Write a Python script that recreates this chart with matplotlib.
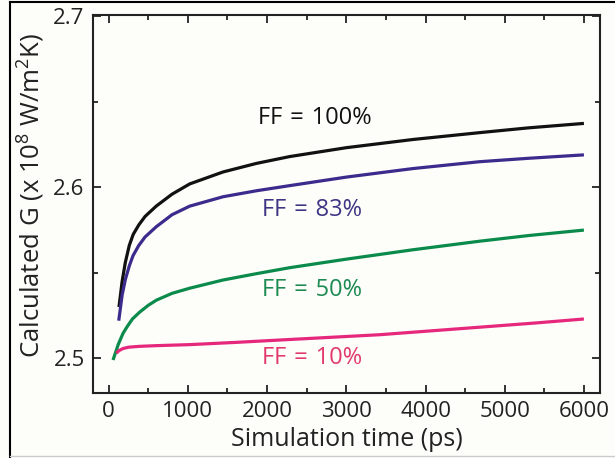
import numpy as np
import matplotlib
matplotlib.use("Agg")
import matplotlib.pyplot as plt
from matplotlib.ticker import MultipleLocator
from matplotlib.lines import Line2D

plt.rcParams['font.family'] = ['Open Sans', 'DejaVu Sans']
plt.rcParams['mathtext.fontset'] = 'custom'
plt.rcParams['mathtext.rm'] = 'Open Sans'
plt.rcParams['mathtext.it'] = 'Open Sans'

# values (time in ps, G in 1e8 W/m2K)
t_100 = [130, 170, 210, 260, 310, 380, 460, 600, 800, 1023, 1444, 1865, 2285, 3000, 3843, 4684, 5300, 6000]
G_100 = [2.530, 2.545, 2.556, 2.566, 2.5725, 2.578, 2.583, 2.589, 2.596, 2.602, 2.609, 2.614, 2.618, 2.6232, 2.628, 2.632, 2.6348, 2.6374]

t_83 = [127, 170, 210, 260, 307, 380, 460, 602, 800, 1023, 1444, 1865, 2285, 3001, 3843, 4684, 5300, 6000]
G_83 = [2.522, 2.537, 2.546, 2.554, 2.560, 2.566, 2.571, 2.577, 2.584, 2.589, 2.5945, 2.598, 2.601, 2.606, 2.611, 2.615, 2.617, 2.619]

t_50 = [55, 120, 181, 240, 300, 391, 500, 602, 800, 1023, 1444, 1865, 2285, 3001, 3843, 4684, 5300, 6000]
G_50 = [2.499, 2.508, 2.5146, 2.519, 2.523, 2.527, 2.531, 2.534, 2.538, 2.541, 2.5458, 2.5495, 2.553, 2.558, 2.5635, 2.5685, 2.5718, 2.575]

t_10 = [97, 130, 180, 250, 391, 600, 1023, 1600, 2285, 3422, 4684, 5400, 6000]
G_10 = [2.503, 2.5045, 2.5057, 2.5065, 2.507, 2.5074, 2.508, 2.5093, 2.511, 2.5138, 2.5182, 2.5207, 2.523]

# label text, left edge t and centre G
labels = ['FF\u2004=\u2004100%', 'FF\u2004=\u200483%', 'FF\u2004=\u200450%', 'FF\u2004=\u200410%']
label_t = [1885, 1936, 1936, 1936]
label_G = [2.6405, 2.5867, 2.5400, 2.5000]

line_colors = ['#111111', '#3c2a8c', '#0b8b4b', '#e6287c']
text_colors = ['#111111', '#3e3585', '#1d8a52', '#e23a6c']

fig = plt.figure(figsize=(6.15, 4.58), dpi=100, facecolor='#fdfdf9')
ax = fig.add_axes([0.1512, 0.1419, 0.8244, 0.8253])
ax.set_facecolor('#fdfdf9')

for t, G, c in zip([t_100, t_83, t_50, t_10], [G_100, G_83, G_50, G_10], line_colors):
    ax.plot(t, G, color=c, lw=2.3, solid_capstyle='butt')
for lab, lt, lg, tc in zip(labels, label_t, label_G, text_colors):
    ax.text(lt, lg, lab, color=tc, fontsize=17, ha='left', va='center')

ax.set_xlim(-198, 6203)
ax.set_ylim(2.4797, 2.7008)
ax.xaxis.set_major_locator(MultipleLocator(1000))
ax.xaxis.set_minor_locator(MultipleLocator(500))
ax.yaxis.set_major_locator(MultipleLocator(0.1))
ax.yaxis.set_minor_locator(MultipleLocator(0.05))
ax.tick_params(which='both', direction='in', top=True, right=True, width=1.3,
               labelsize=16, colors='#222222')
ax.tick_params(which='major', length=6, pad=6)
ax.tick_params(which='minor', length=3.5)
for s in ax.spines.values():
    s.set_linewidth(1.5)
    s.set_color('#222222')

ax.set_xlabel('Simulation time (ps)', fontsize=18, color='#222222', va='center')
ax.xaxis.set_label_coords(0.5, -0.124)
ax.set_ylabel(r'Calculated G (x 10$^8$ W/m$^2$K)', fontsize=18.5, color='#222222', va='center')
ax.yaxis.set_label_coords(-0.122, 0.522)

# border of the original screenshot
fig.add_artist(Line2D([10/615, 10/615], [0, 1 - 2/458], color='k', lw=1.5, transform=fig.transFigure))
fig.add_artist(Line2D([10/615, 1], [1 - 2/458, 1 - 2/458], color='k', lw=1.5, transform=fig.transFigure))
fig.add_artist(Line2D([10/615, 1], [2/458, 2/458], color='#cccccc', lw=1, transform=fig.transFigure))

fig.savefig('out.png', dpi=100, facecolor=fig.get_facecolor())
